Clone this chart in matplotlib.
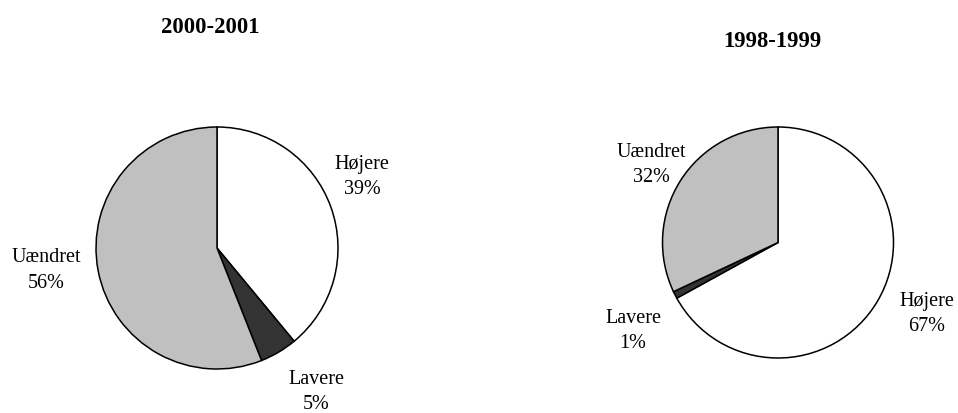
import matplotlib
matplotlib.use("Agg")
import matplotlib.pyplot as plt

categories = ["Højere", "Lavere", "Uændret"]
values_2000 = [39, 5, 56]
values_1998 = [67, 1, 32]
titles = ["2000-2001", "1998-1999"]
colors = ["#ffffff", "#333333", "#c0c0c0"]

W, H = 958, 414
fig = plt.figure(figsize=(W / 100, H / 100), dpi=100)
ax = fig.add_axes([0, 0, 1, 1])
ax.axis("off")

font = "Liberation Serif"
fs = 14.5
gap = 25.5  # line spacing in px

# (values, center_px, radius_px, title, title_pos (x, baseline), label positions (x, baseline of first line))
pies = [
    (values_2000, (217, 249), 121, titles[0], (210, 33),
     [(362, 169), (316, 384), (46, 262)]),
    (values_1998, (778, 243.5), 115.5, titles[1], (772, 47),
     [(927, 306), (633, 323), (651, 157)]),
]

for vals, (cx, cy), r, title, (tx, ty), lpos in pies:
    ax.pie(vals, colors=colors, startangle=90, counterclock=False,
           center=(cx, H - cy), radius=r,
           wedgeprops=dict(edgecolor="black", linewidth=1.1))
    ax.text(tx, H - ty, title, ha="center", va="baseline",
            fontsize=16.3, fontweight="bold", family=font)
    for cat, v, (x, y) in zip(categories, vals, lpos):
        ax.text(x, H - y, cat, ha="center", va="baseline",
                fontsize=fs, family=font)
        ax.text(x, H - y - gap, f"{v}%", ha="center", va="baseline",
                fontsize=fs, family=font)

ax.set_xlim(0, W)
ax.set_ylim(0, H)
ax.set_aspect("equal")
fig.savefig("out.png", dpi=100)
